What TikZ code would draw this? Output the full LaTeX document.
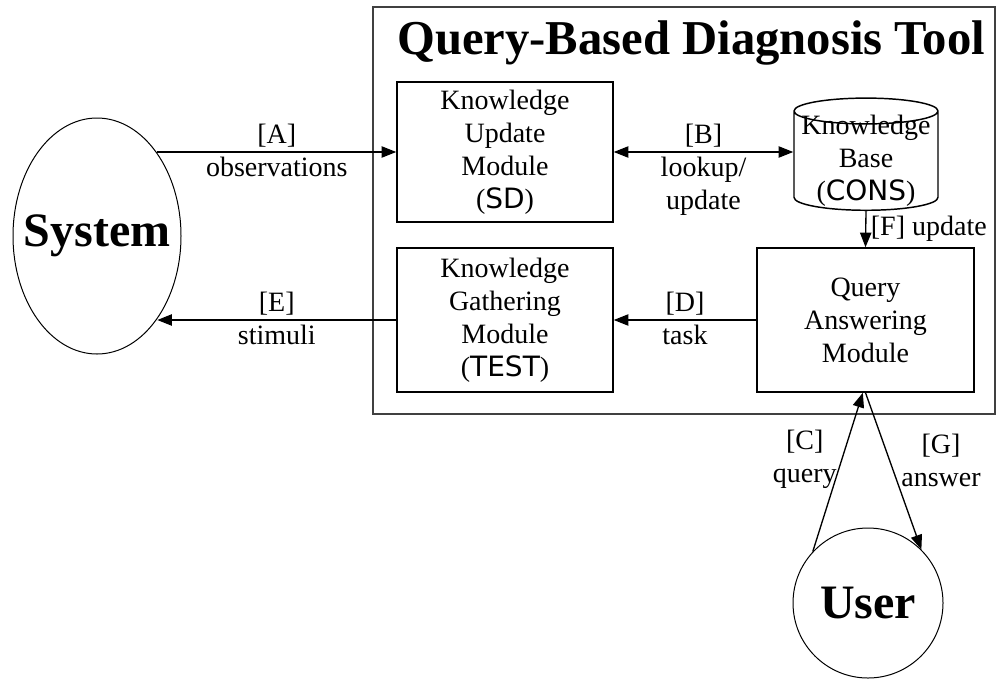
\documentclass[tikz,border=0pt]{standalone}
\usepackage{fontspec}
\setmainfont{Liberation Serif}
\newfontfamily\codefont{DejaVu Sans}
\usetikzlibrary{shapes.geometric,arrows.meta}
\tikzset{
    modbox/.style={draw, line width=1.1pt, inner sep=1pt, align=center},
    blob/.style={draw, line width=0.75pt, inner xsep=-14pt, inner ysep=0pt, font=\fontsize{36}{40}\selectfont\bfseries},
    flow/.style={line width=1pt, ->},
}
\begin{document}
\begin{tikzpicture}[x=0.75pt, y=-0.75pt, >={Triangle[length=11pt,width=8.5pt]}, font=\fontsize{21}{24.75}\selectfont]
    \useasboundingbox (0, 0) rectangle (999, 679);

    % 外框
    \node (tool) [draw=black!75, line width=1.6pt, minimum width=466.5pt, minimum height=305.25pt] at (684, 210.5) {};
    \node (title) at (691, 43) {\fontsize{36.5}{40}\selectfont\bfseries Query-Based Diagnosis Tool};

    % 模块
    \node (ku) [modbox, minimum width=162pt, minimum height=105pt] at (505, 152) {Knowledge\\Update\\Module\\({\codefont SD})};
    \node (kg) [modbox, minimum width=162pt, minimum height=108pt] at (505, 320) {Knowledge\\Gathering\\Module\\({\codefont TEST})};
    \node (qa) [modbox, minimum width=162.75pt, minimum height=108pt] at (865.5, 320) {Query\\Answering\\Module};
    \node (kb) [draw, line width=1.1pt, cylinder, shape border rotate=90, aspect=0.2, minimum width=108pt, minimum height=81pt, inner xsep=0pt, inner ysep=-7pt, align=center] at (866, 161) {Knowledge\\Base\\({\codefont CONS})};

    % 系统与用户
    \node (sys) [blob, ellipse, minimum width=126pt, minimum height=177pt] at (97, 236) {System};
    \node (user) [blob, circle, minimum size=112.5pt] at (868, 603) {User};

    % 连线
    \draw[flow] (sys.54.5 |- ku.west) -- (ku.west)
        node[midway, above] {[A]} node[midway, below] {observations};
    \draw[flow, <->] (ku.east) -- (kb.west |- ku.east)
        node[midway, above] {[B]} node[midway, below, align=center] {lookup/\\update};
    \draw[flow] (kb.south) -- (qa.north)
        node[midway, right] {[F] update};
    \draw[flow] (qa.west) -- (kg.east)
        node[midway, above] {[D]} node[midway, below] {task};
    \draw[flow] (kg.west) -- (sys.-54.5 |- kg.west)
        node[midway, above] {[E]} node[midway, below] {stimuli};
    \draw[flow] (user.137.8) -- ([xshift=-2pt]qa.south)
        node[pos=0.58, left, align=center] {[C]\\query};
    \draw[flow] (qa.south) -- (user.45.6)
        node[pos=0.43, right, xshift=5pt, align=center] {[G]\\answer};
\end{tikzpicture}
\end{document}
